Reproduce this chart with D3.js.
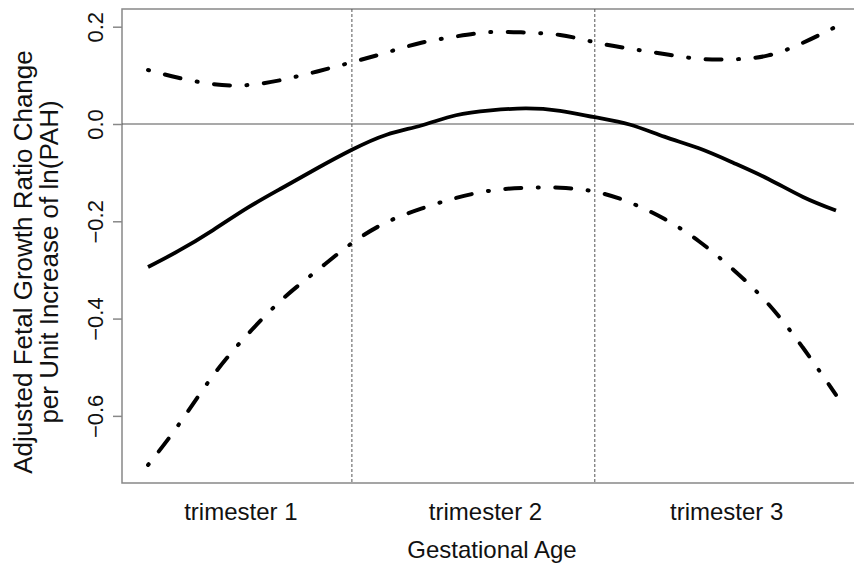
<!DOCTYPE html>
<html>
<head>
<meta charset="utf-8">
<script src="https://cdn.jsdelivr.net/npm/d3@7"></script>
<style>
  body { margin: 0; background: #fff; }
  svg { display: block; font-family: "Liberation Sans", Arial, sans-serif; }
</style>
</head>
<body>
<svg id="canvas" width="854" height="564"></svg>
<script>
// gestational week of each sample
const weeks = [1.25, 3, 5, 7, 9, 11, 13, 15, 17, 19, 21, 23, 25, 27, 29, 31, 33, 35, 37, 39, 40.9];
const estimate = [-0.294, -0.261, -0.218, -0.172, -0.131, -0.091, -0.053, -0.022, -0.003, 0.018, 0.028,
                  0.032, 0.027, 0.014, -0.001, -0.026, -0.050, -0.080, -0.113, -0.150, -0.178];
const lower = [-0.701, -0.619, -0.517, -0.432, -0.360, -0.301, -0.245, -0.202, -0.174, -0.152, -0.137,
               -0.131, -0.131, -0.139, -0.161, -0.195, -0.241, -0.300, -0.370, -0.460, -0.557];
const upper = [0.111, 0.095, 0.082, 0.080, 0.091, 0.108, 0.127, 0.147, 0.167, 0.180, 0.189,
               0.188, 0.183, 0.168, 0.155, 0.144, 0.134, 0.133, 0.141, 0.167, 0.200];

const trimesterBreaks = [13, 27];
const trimesterLabels = ["trimester 1", "trimester 2", "trimester 3"];
const trimesterCenters = [6.6, 20.7, 34.6];
const yTicks = [0.2, 0.0, -0.2, -0.4, -0.6];

const svg = d3.select("#canvas");

const plotLeft = 122, plotRight = 862, plotTop = 9, plotBottom = 483;

const x = d3.scaleLinear().domain([-0.25, 42.4]).range([plotLeft, plotRight]);
const y = d3.scaleLinear().domain([-0.738, 0.2364]).range([plotBottom, plotTop]);

const axisColor = "#888";

// plot box (right side runs off the picture)
svg.append("path")
    .attr("d", `M${plotRight},${plotTop}H${plotLeft}V${plotBottom}H${plotRight}`)
    .attr("fill", "none")
    .attr("stroke", axisColor)
    .attr("stroke-width", 1.5);

// zero line
svg.append("line")
    .attr("x1", plotLeft).attr("x2", plotRight)
    .attr("y1", y(0)).attr("y2", y(0))
    .attr("stroke", "#555")
    .attr("stroke-width", 1.2);

// trimester boundaries
trimesterBreaks.forEach(w => {
    svg.append("line")
        .attr("x1", x(w)).attr("x2", x(w))
        .attr("y1", plotTop).attr("y2", plotBottom)
        .attr("stroke", "#555")
        .attr("stroke-width", 1)
        .attr("stroke-dasharray", "3 2");
});

// y axis
const yAxis = svg.append("g")
    .attr("transform", `translate(${plotLeft},0)`)
    .call(d3.axisLeft(y).tickValues(yTicks).tickSize(9).tickFormat(d3.format(".1f")));
yAxis.select(".domain").remove();
yAxis.selectAll(".tick line").attr("stroke", axisColor).attr("stroke-width", 1.5);
yAxis.selectAll(".tick text")
    .attr("x", null).attr("dy", null)
    .attr("transform", "translate(-19,0) rotate(-90)")
    .attr("text-anchor", "middle")
    .attr("fill", "#111")
    .style("font-size", "22px")
    .style("font-family", "Liberation Sans, Arial, sans-serif");

// trimester labels
trimesterLabels.forEach((t, i) => {
    svg.append("text")
        .attr("x", x(trimesterCenters[i]))
        .attr("y", 520)
        .attr("text-anchor", "middle")
        .attr("fill", "#111")
        .style("font-size", "24px")
        .text(t);
});

svg.append("text")
    .attr("x", 492)
    .attr("y", 558)
    .attr("text-anchor", "middle")
    .attr("fill", "#111")
    .style("font-size", "24px")
    .text("Gestational Age");

const yTitle = svg.append("text")
    .attr("transform", "translate(32,262) rotate(-90)")
    .attr("text-anchor", "middle")
    .attr("fill", "#111")
    .style("font-size", "26px");
yTitle.append("tspan").attr("x", 0).attr("y", 0).text("Adjusted Fetal Growth Ratio Change");
yTitle.append("tspan").attr("x", 0).attr("y", 26).text("per Unit Increase of ln(PAH)");

// curves
const line = d3.line()
    .x((d, i) => x(weeks[i]))
    .y(d => y(d))
    .curve(d3.curveNatural);

[lower, upper].forEach(s => {
    svg.append("path")
        .attr("d", line(s))
        .attr("fill", "none")
        .attr("stroke", "#000")
        .attr("stroke-width", 4)
        .attr("stroke-linecap", "round")
        .attr("stroke-dasharray", "1 16.5 16 16.5");
});

svg.append("path")
    .attr("d", line(estimate))
    .attr("fill", "none")
    .attr("stroke", "#000")
    .attr("stroke-width", 3.8);
</script>
</body>
</html>
